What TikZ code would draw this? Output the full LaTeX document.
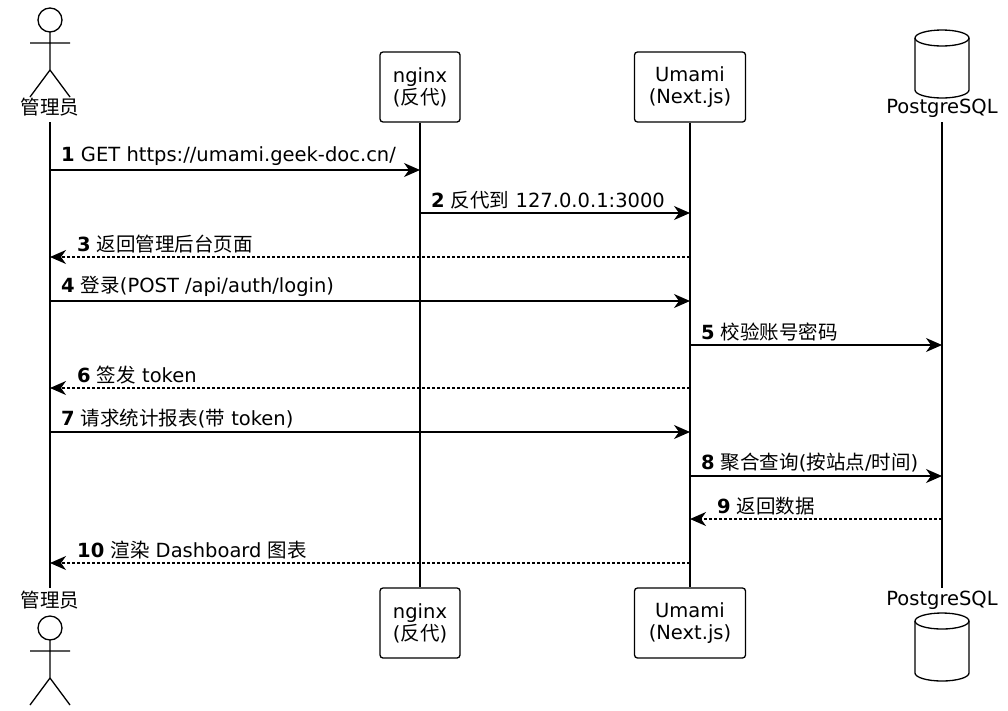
\documentclass[tikz,border=0pt]{standalone}
\usepackage{fontspec}
\setmainfont{DejaVu Sans}
\newfontfamily\cjk{Noto Sans CJK SC}
\usetikzlibrary{arrows.meta,shapes.geometric}
\begin{document}
\begin{tikzpicture}[x=1pt,y=-1pt,font=\fontsize{19.5}{22}\selectfont,
  part/.style={draw,rounded corners=3pt,minimum width=80pt,minimum height=70pt,align=center,line width=1.3pt,inner sep=2pt},
  life/.style={line width=1.3pt},
  call/.style={line width=1.3pt,-{Stealth[length=16pt,width=14pt,inset=5pt]}},
  back/.style={call,densely dashed},
  lbl/.style={anchor=south west,inner sep=1pt}]
\useasboundingbox (0,0) rectangle (1008,710);
\def\xa{50};\def\xn{420};\def\xu{690};\def\xp{942};
% participants
\node[part] (NT) at (\xn,87) {nginx\\({\cjk 反代})};
\node[part] (NB) at (\xn,623) {nginx\\({\cjk 反代})};
\node[part,minimum width=111pt] (UT) at (\xu,87) {Umami\\(Next.js)};
\node[part,minimum width=111pt] (UB) at (\xu,623) {Umami\\(Next.js)};
\node (AT) at (\xa,107) {\cjk 管理员};
\node (AB) at (\xa,600) {\cjk 管理员};
\node (PT) at (\xp,108) {PostgreSQL};
\node (PB) at (\xp,600) {PostgreSQL};
% actors
\foreach \y in {20,628}{
  \draw[line width=1.3pt] (\xa,\y) circle (12);
  \draw[line width=1.3pt] (\xa,\y+12) -- (\xa,\y+50) (\xa-20,\y+23) -- (\xa+20,\y+23)
    (\xa-20,\y+77) -- (\xa,\y+50) -- (\xa+20,\y+77);
}
% database cylinders
\foreach \y in {30,613}{
  \draw[line width=1.3pt] (\xp-27,\y+8) arc (180:360:27 and 8) -- (\xp+27,\y+60) arc (0:180:27 and 8) -- cycle;
  \draw[line width=1.3pt] (\xp-27,\y+8) arc (180:0:27 and 8);
}
% lifelines
\coordinate (AL1) at (\xa,122); \coordinate (AL2) at (\xa,588);
\coordinate (PL1) at (\xp,122); \coordinate (PL2) at (\xp,588);
\draw[life] (AL1) -- (AL2);
\draw[life] (NT) -- (NB);
\draw[life] (UT) -- (UB);
\draw[life] (PL1) -- (PL2);
% messages
\foreach \n/\y in {1/170,2/213,3/257,4/301,5/345,6/388,7/432,8/476,9/519,10/563}{
  \coordinate (a\n) at (\xa,\y); \coordinate (n\n) at (\xn,\y);
  \coordinate (u\n) at (\xu,\y); \coordinate (p\n) at (\xp,\y);
}
\draw[call] (a1) -- (n1);
\node[lbl] at (60,167) {\textbf{1} GET https://umami.geek-doc.cn/};
\draw[call] (n2) -- (u2);
\node[lbl] at (430,210) {\textbf{2} {\cjk 反代到} 127.0.0.1:3000};
\draw[back] (u3) -- (a3);
\node[lbl] at (76,254) {\textbf{3} {\cjk 返回管理后台页面}};
\draw[call] (a4) -- (u4);
\node[lbl] at (60,298) {\textbf{4} {\cjk 登录}(POST /api/auth/login)};
\draw[call] (u5) -- (p5);
\node[lbl] at (700,342) {\textbf{5} {\cjk 校验账号密码}};
\draw[back] (u6) -- (a6);
\node[lbl] at (76,385) {\textbf{6} {\cjk 签发} token};
\draw[call] (a7) -- (u7);
\node[lbl] at (60,429) {\textbf{7} {\cjk 请求统计报表}({\cjk 带} token)};
\draw[call] (u8) -- (p8);
\node[lbl] at (700,473) {\textbf{8} {\cjk 聚合查询}({\cjk 按站点}/{\cjk 时间})};
\draw[back] (p9) -- (u9);
\node[lbl] at (716,516) {\textbf{9} {\cjk 返回数据}};
\draw[back] (u10) -- (a10);
\node[lbl] at (76,560) {\textbf{10} {\cjk 渲染} Dashboard {\cjk 图表}};
\end{tikzpicture}
\end{document}
